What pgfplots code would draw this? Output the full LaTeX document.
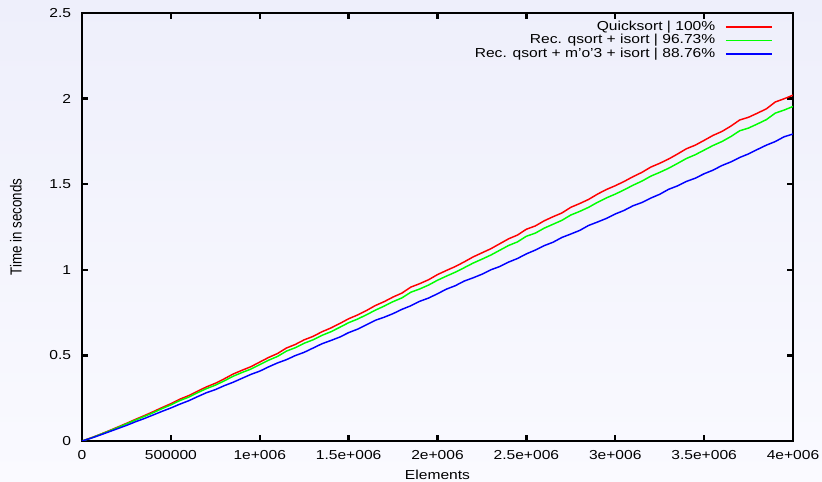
\documentclass[border=0pt]{standalone}
\usepackage{fontspec}
\setmainfont{Liberation Sans}[FakeStretch=1.2]
\newfontfamily\plainfont{Liberation Sans}
\usepackage{graphicx}
\usepackage{pgfplots}
\usepackage{pgfplotstable}
\pgfplotsset{compat=1.18}
\definecolor{bgtop}{RGB}{238,239,251}
\definecolor{bgbot}{RGB}{250,250,255}

% elements, quicksort, rec. qsort + isort, rec. qsort + m'o'3 + isort
\pgfplotstableread{
n r g b
0 0 0 0
50000 0.018 0.017 0.016
100000 0.038 0.037 0.034
150000 0.059 0.057 0.053
200000 0.081 0.078 0.072
250000 0.103 0.100 0.091
300000 0.126 0.122 0.112
350000 0.148 0.143 0.131
400000 0.171 0.165 0.152
450000 0.195 0.189 0.173
500000 0.218 0.211 0.193
550000 0.244 0.236 0.215
600000 0.265 0.256 0.235
650000 0.291 0.282 0.259
700000 0.316 0.306 0.282
750000 0.337 0.326 0.300
800000 0.363 0.351 0.323
850000 0.391 0.378 0.343
900000 0.413 0.400 0.366
950000 0.434 0.420 0.389
1000000 0.461 0.446 0.408
1050000 0.488 0.472 0.433
1100000 0.511 0.494 0.456
1150000 0.543 0.525 0.475
1200000 0.564 0.545 0.499
1250000 0.591 0.571 0.518
1300000 0.611 0.591 0.543
1350000 0.638 0.617 0.568
1400000 0.660 0.638 0.587
1450000 0.686 0.664 0.607
1500000 0.714 0.691 0.633
1550000 0.736 0.712 0.653
1600000 0.762 0.737 0.679
1650000 0.791 0.764 0.705
1700000 0.814 0.788 0.723
1750000 0.841 0.814 0.744
1800000 0.864 0.836 0.769
1850000 0.899 0.869 0.790
1900000 0.919 0.888 0.816
1950000 0.942 0.911 0.835
2000000 0.972 0.939 0.860
2050000 0.996 0.963 0.887
2100000 1.019 0.986 0.907
2150000 1.046 1.012 0.934
2200000 1.075 1.039 0.953
2250000 1.099 1.062 0.974
2300000 1.123 1.086 1.000
2350000 1.152 1.114 1.019
2400000 1.181 1.142 1.045
2450000 1.203 1.163 1.066
2500000 1.237 1.196 1.093
2550000 1.256 1.214 1.115
2600000 1.286 1.243 1.141
2650000 1.310 1.266 1.161
2700000 1.332 1.289 1.189
2750000 1.365 1.320 1.209
2800000 1.387 1.341 1.230
2850000 1.411 1.365 1.259
2900000 1.442 1.394 1.279
2950000 1.469 1.420 1.300
3000000 1.491 1.442 1.326
3050000 1.516 1.467 1.347
3100000 1.544 1.494 1.374
3150000 1.569 1.518 1.393
3200000 1.600 1.547 1.419
3250000 1.622 1.569 1.441
3300000 1.647 1.593 1.470
3350000 1.676 1.621 1.490
3400000 1.707 1.650 1.516
3450000 1.728 1.672 1.535
3500000 1.756 1.699 1.561
3550000 1.785 1.726 1.582
3600000 1.808 1.749 1.609
3650000 1.839 1.778 1.630
3700000 1.875 1.812 1.656
3750000 1.891 1.828 1.677
3800000 1.915 1.852 1.703
3850000 1.940 1.877 1.728
3900000 1.980 1.915 1.749
3950000 1.999 1.933 1.777
4000000 2.020 1.954 1.793
}\sorttimes

\begin{document}
\begin{tikzpicture}[x=0.75pt,y=0.75pt]
\shade[top color=bgtop,bottom color=bgbot] (-82,-41) rectangle (740,441);
\begin{axis}[
  at={(0,0)},anchor=south west,
  scale only axis,width=533.25pt,height=321pt,
  xmin=0,xmax=4000000,ymin=0,ymax=2.5,
  scaled x ticks=false,scaled y ticks=false,
  xtick={0,500000,1000000,1500000,2000000,2500000,3000000,3500000,4000000},
  xticklabels={0,500000,1e+006,1.5e+006,2e+006,2.5e+006,3e+006,3.5e+006,4e+006},
  ytick={0,0.5,1,1.5,2,2.5},
  yticklabels={0,0.5,1,1.5,2,2.5},
  tick align=inside,major tick length=4.5pt,
  tick style={black,line width=1.8pt},
  axis line style={black,line width=1.8pt},
  tick label style={font=\fontsize{9.75}{11.7}\selectfont},
  xticklabel style={anchor=base,yshift=-13.7pt},
  yticklabel style={anchor=east,xshift=-4.6pt},
  xlabel={Elements},
  ylabel={\plainfont\fontsize{10}{12}\selectfont\scalebox{1}[1.2]{Time in seconds}},
  xlabel style={at={(axis description cs:0.5,-0.0895)},anchor=base,
    font=\fontsize{9.75}{11.7}\selectfont},
  ylabel style={at={(axis description cs:-0.0928,0.5)},anchor=center,rotate=0},
  axis background/.style={fill=none},
  legend style={draw=none,fill=none,at={(0.9715,0.983)},anchor=north east,
    inner sep=0pt,outer sep=0pt,row sep=0pt,column sep=7.5pt,
    nodes={inner sep=0pt,text height=7.5pt,text depth=2.6pt,
      font=\fontsize{9.75}{11.7}\selectfont}},
  legend cell align=right,
  legend plot pos=right,
  legend image code/.code={\draw[#1] plot coordinates {(0pt,0pt) (17pt,0pt) (34.5pt,0pt)};},
  every axis plot/.append style={line width=1.1pt},
]
\addplot[color=red,no marks] table[x=n,y=r] {\sorttimes};
\addlegendentry{Quicksort | 100\%}
\addplot[color=green,no marks] table[x=n,y=g] {\sorttimes};
\addlegendentry{Rec. qsort + isort | 96.73\%}
\addplot[color=blue,no marks] table[x=n,y=b] {\sorttimes};
\addlegendentry{Rec. qsort + m’o’3 + isort | 88.76\%}
\end{axis}
\pgfresetboundingbox
\path[use as bounding box] (-82,-41) rectangle (740,441);
\end{tikzpicture}
\end{document}
